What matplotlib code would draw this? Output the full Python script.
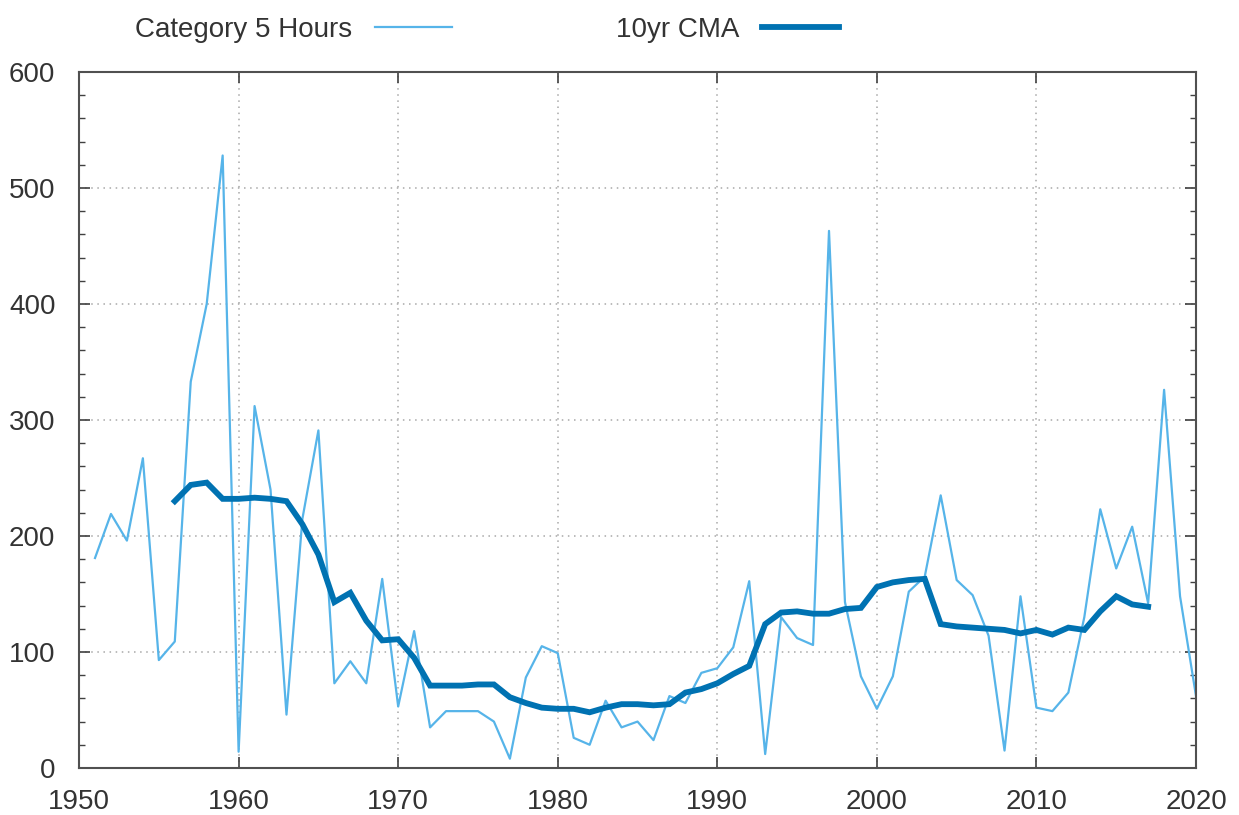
import matplotlib.pyplot as plt
from matplotlib.ticker import MultipleLocator
import numpy as np

plt.rcParams['font.family'] = ['Liberation Sans', 'DejaVu Sans']

# yearly category 5 hours, 1951-2020
years = np.arange(1951, 2021)
hours = [181, 219, 196, 267, 93, 109, 333, 400, 528, 14,
         312, 240, 46, 215, 291, 73, 92, 73, 163, 53,
         118, 35, 49, 49, 49, 40, 8, 78, 105, 99,
         26, 20, 58, 35, 40, 24, 62, 56, 82, 86,
         104, 161, 12, 130, 112, 106, 463, 143, 79, 51,
         79, 152, 165, 235, 162, 149, 114, 15, 148, 52,
         49, 65, 130, 223, 172, 208, 142, 326, 148, 62]

# 10 year centred moving average, 1956-2017
cma_years = np.arange(1956, 2018)
cma = [230, 244, 246, 232, 232, 233, 232, 230, 210, 184,
       143, 151, 127, 110, 111, 95, 71, 71, 71, 72,
       72, 61, 56, 52, 51, 51, 48, 52, 55, 55,
       54, 55, 65, 68, 73, 81, 88, 124, 134, 135,
       133, 133, 137, 138, 156, 160, 162, 163, 124, 122,
       121, 120, 119, 116, 119, 115, 121, 119, 135, 148,
       141, 139]

fig = plt.figure(figsize=(12.39, 8.15), dpi=100)
ax = fig.add_axes([0.0638, 0.0577, 0.9015, 0.854])

ax.plot(years, hours, color='#56b4e9', lw=1.6, label='Category 5 Hours')
ax.plot(cma_years, cma, color='#0072b2', lw=4.2, label='10yr CMA',
        solid_joinstyle='miter')

ax.set_xlim(1950, 2020)
ax.set_ylim(0, 600)
ax.xaxis.set_major_locator(MultipleLocator(10))
ax.yaxis.set_major_locator(MultipleLocator(100))
ax.yaxis.set_minor_locator(MultipleLocator(20))
ax.tick_params(which='both', direction='in', top=True, right=True,
               colors='#404040', labelcolor='#333333', labelsize=20)
ax.tick_params(axis='x', pad=15)
ax.tick_params(axis='y', pad=17)
ax.tick_params(which='major', length=8, width=1.2)
ax.tick_params(which='minor', length=4, width=1.0)
for s in ax.spines.values():
    s.set_color('#505050')
    s.set_linewidth(1.5)

ax.grid(True, which='major', color='#a8a8a8', linestyle=(0, (1, 3)), lw=1.1)

leg = ax.legend(loc='center left', bbox_to_anchor=(0.05, 1.06), ncol=2,
                frameon=False, markerfirst=False, fontsize=20,
                handlelength=2.77, handletextpad=0.83, columnspacing=5.9,
                borderaxespad=0, borderpad=0)
for t in leg.get_texts():
    t.set_color('#333333')

fig.savefig('out.png', dpi=100)
